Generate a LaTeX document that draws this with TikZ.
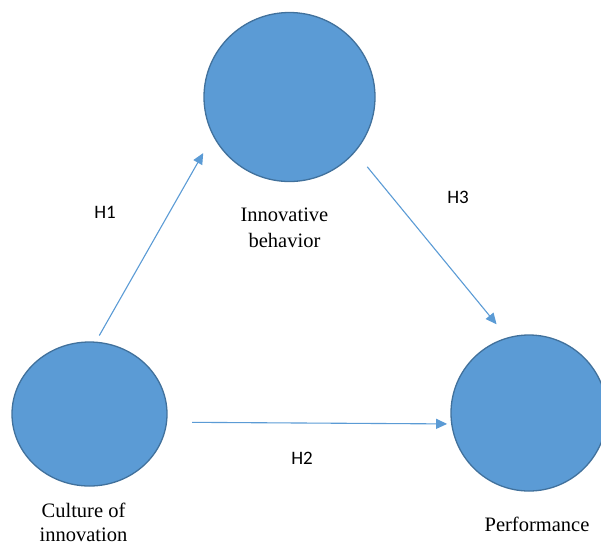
\documentclass[tikz,border=0pt]{standalone}
\usepackage{fontspec}
\setmainfont{Liberation Serif}
\newfontfamily\hypfont{Carlito}
\usetikzlibrary{positioning,shapes.geometric,arrows.meta}
\definecolor{cblue}{HTML}{5B9BD5}
\definecolor{cedge}{HTML}{41719C}
\tikzset{
  var/.style  ={ellipse, draw=cedge, line width=1.3pt, fill=cblue, inner sep=0pt},
  vlbl/.style ={align=center, font=\fontsize{20.5}{26}\selectfont, inner sep=0pt},
  hyp/.style  ={-{Triangle[length=11pt,width=10pt]}, draw=cblue, line width=1.1pt},
  hlbl/.style ={font=\hypfont\fontsize{19}{20}\selectfont, inner sep=0pt}
}

\begin{document}
\begin{tikzpicture}[x=1pt, y=-1pt]
  \useasboundingbox (0,0) rectangle (601,547);
  % the three constructs
  \node[var,minimum width=171pt,minimum height=169pt] (inn) at (289.5,97) {};
  \node[var,minimum width=155pt,minimum height=144pt] (cul) at (89.5,414) {};
  \node[var,minimum width=156pt,minimum height=156pt] (perf) at (529,413) {};

  \node[vlbl,below=26pt of inn,xshift=-5pt] (innl) {Innovative\\behavior};
  \node[vlbl,below=16pt of cul,xshift=-6pt,
        font=\fontsize{20.5}{24}\selectfont] (cull) {Culture of\\innovation};
  \node[vlbl,below=25pt of perf,xshift=8pt] (perfl) {Performance};

  % hypotheses
  \draw[hyp,shorten <=7pt,shorten >=19.6pt] (cul.85) -- (inn.207);
  \draw[hyp,shorten <=25pt,shorten >=4pt] (cul.354) -- (perf.188);
  \draw[hyp,shorten <=19pt,shorten >=17pt] (inn.320) -- (perf.106);

  \node[hlbl] (h1) at (105,212) {H1};
  \node[hlbl] (h2) at (302,458) {H2};
  \node[hlbl] (h3) at (458,197) {H3};
\end{tikzpicture}
\end{document}
